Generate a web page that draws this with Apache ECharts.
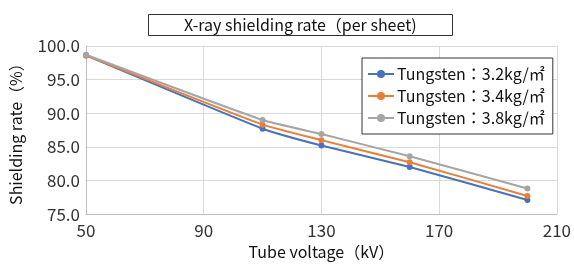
<!DOCTYPE html>
<html>
<head>
<meta charset="utf-8">
<script src="https://cdn.jsdelivr.net/npm/echarts@6/dist/echarts.min.js"></script>
<style>
  html, body { margin: 0; padding: 0; background: #fff; }
  #chart { width: 574px; height: 265px; }
</style>
</head>
<body>
<div id="chart"></div>
<script>
const voltages = [50, 110, 130, 160, 200];
const seriesNames = ['Tungsten：3.2kg/㎡', 'Tungsten：3.4kg/㎡', 'Tungsten：3.8kg/㎡'];
const rate32 = [98.6, 87.7, 85.2, 82.0, 77.1];
const rate34 = [98.6, 88.3, 86.0, 82.7, 77.7];
const rate38 = [98.7, 89.0, 86.9, 83.6, 78.8];
const colors = ['#4472C4', '#ED7D31', '#A5A5A5'];

const font = '"Noto Sans CJK JP", "Noto Sans", sans-serif';
const chart = echarts.init(document.getElementById('chart'));

function mkSeries(name, vals, color) {
  return {
    name: name,
    type: 'line',
    data: voltages.map((v, i) => [v, vals[i]]),
    smooth: 0.15,
    symbol: 'circle',
    symbolSize: 6,
    lineStyle: { color: color, width: 2 },
    itemStyle: { color: color }
  };
}

chart.setOption({
  animation: false,
  title: {
    text: 'X-ray shielding rate（per sheet)',
    left: 148,
    top: 14,
    padding: [3, 36, 3, 36],
    borderColor: '#333',
    borderWidth: 1,
    textStyle: { fontFamily: font, fontSize: 16, fontWeight: 'normal', color: '#111' }
  },
  legend: {
    orient: 'vertical',
    left: 362,
    top: 58,
    padding: [8, 8, 8, 5],
    itemGap: 6,
    itemWidth: 26,
    itemHeight: 10,
    borderColor: '#333',
    borderWidth: 1,
    backgroundColor: '#fff',
    textStyle: { fontFamily: font, fontSize: 16, color: '#111', padding: [0, 0, 0, -2] },
    data: seriesNames
  },
  grid: { left: 82, right: 17, top: 46, bottom: 45 },
  xAxis: {
    type: 'value',
    min: 50, max: 210, interval: 40,
    name: 'Tube voltage（kV）',
    nameLocation: 'middle',
    nameGap: 26,
    nameTextStyle: { fontFamily: font, fontSize: 16, color: '#111' },
    axisLine: { lineStyle: { color: '#bfbfbf' } },
    axisTick: { show: false },
    axisLabel: { fontFamily: font, fontSize: 17, color: '#333', margin: 8 },
    splitLine: { show: true, lineStyle: { color: '#d9d9d9' } }
  },
  yAxis: {
    type: 'value',
    min: 75, max: 100, interval: 5,
    name: 'Shielding rate（%）',
    nameLocation: 'middle',
    nameGap: 62,
    nameTextStyle: { fontFamily: font, fontSize: 16, color: '#111' },
    axisLine: { show: true, lineStyle: { color: '#bfbfbf' } },
    axisTick: { show: false },
    axisLabel: { fontFamily: font, fontSize: 17, color: '#333', margin: 6,
      formatter: v => v.toFixed(1) },
    splitLine: { show: true, lineStyle: { color: '#d9d9d9' } }
  },
  series: [
    mkSeries(seriesNames[0], rate32, colors[0]),
    mkSeries(seriesNames[1], rate34, colors[1]),
    mkSeries(seriesNames[2], rate38, colors[2])
  ]
});
</script>
</body>
</html>
